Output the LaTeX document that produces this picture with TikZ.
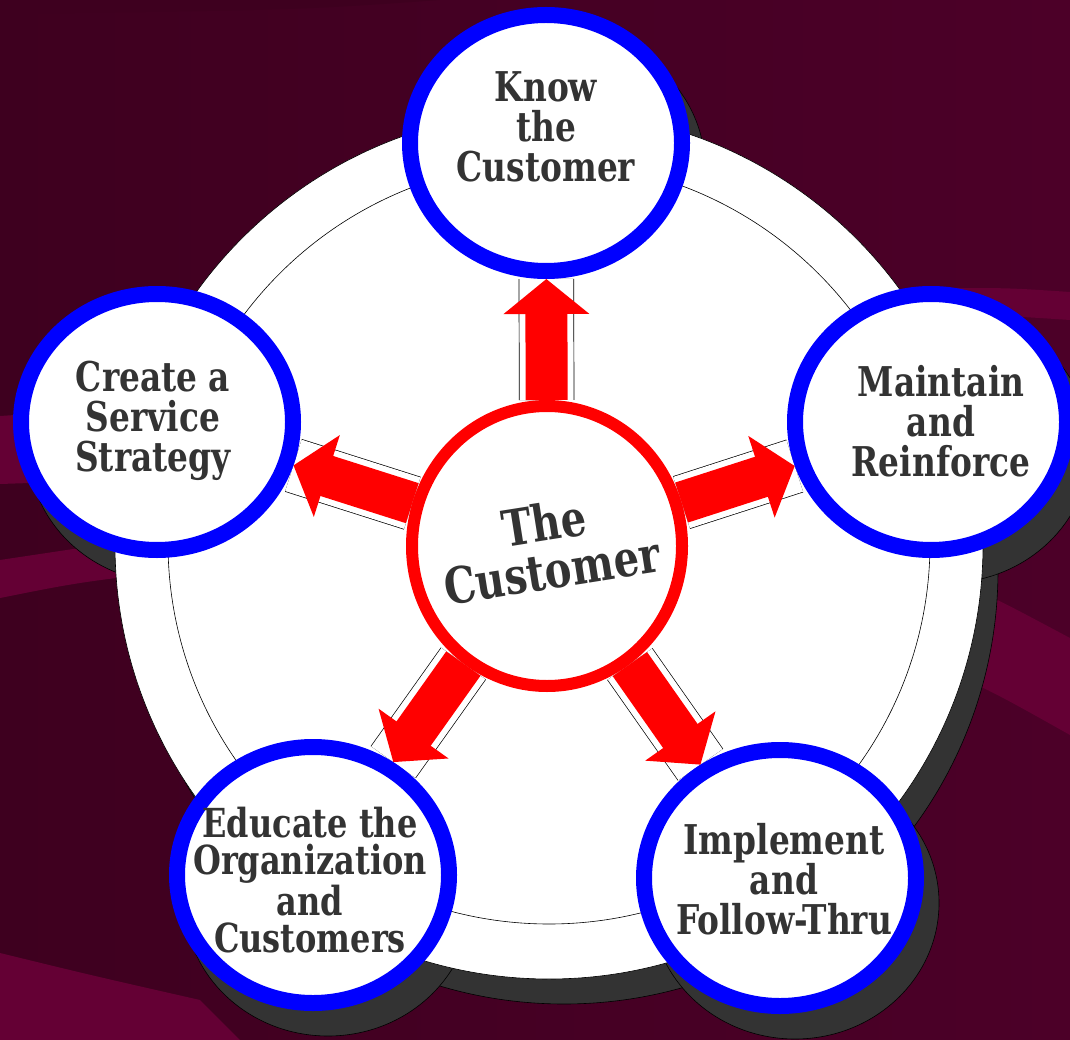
\documentclass[tikz,border=0pt]{standalone}
\usepackage{fontspec}
\newfontfamily\hubfont[FakeStretch=0.8]{DejaVu Serif}
\usetikzlibrary{arrows.meta,shapes.geometric}

\definecolor{bgdark}{HTML}{3E001F}
\definecolor{bgmid}{HTML}{5A002E}
\definecolor{bgright}{HTML}{4C0028}
\definecolor{bgband}{HTML}{640034}
\definecolor{ringblue}{HTML}{0000FF}
\definecolor{ringred}{HTML}{FF0000}
\definecolor{shadowgray}{HTML}{333333}
\definecolor{inkgray}{HTML}{333333}

\pgfdeclarelayer{back}
\pgfsetlayers{back,main}

\tikzset{
  hub/.style={ellipse, draw=ringblue, fill=white, line width=16pt,
    minimum width=272pt, minimum height=256pt, inner sep=0pt},
  core/.style={ellipse, draw=ringred, fill=white, line width=12pt,
    minimum width=270pt, minimum height=280pt, inner sep=0pt},
  hubtext/.style={align=center, text=inkgray, inner sep=0pt,
    font=\hubfont\bfseries\fontsize{41}{40}\selectfont},
  spoke/.style={draw=black, line width=0.7pt, double=white, double distance=54pt},
  push/.style={draw=ringred, line width=42pt, -{Triangle[width=84pt,length=35pt]}},
  dropfill/.style={fill=shadowgray, draw=black, line width=0.6pt},
}

\begin{document}
\begin{tikzpicture}[x=1pt, y=-1pt, line join=round]
  \useasboundingbox (0,0) rectangle (1070,1040);

  % the five outer rings and the centre
  \node[core] (cust) at (547,546) {};
  \node[hub] (know) at (546,143) {};
  \node[hub] (keep) at (931,422) {};
  \node[hub] (plan) at (157,422) {};
  \node[hub] (teach) at (313,875) {};
  \node[hub] (act) at (780,878) {};

  % ring texts
  \node[hubtext] (knowt) at (546,127) {Know\\the\\Customer};
  \node[hubtext] (plant) at (153,421) {Create a\\Service\\Strategy};
  \node[hubtext] (keept) at (941,421) {Maintain\\and\\Reinforce};
  \node[hubtext, font=\hubfont\bfseries\fontsize{40}{37}\selectfont]
    (teacht) at (310,880) {Educate the\\Organization\\and\\Customers};
  \node[hubtext] (actt) at (784,879) {Implement\\and\\Follow-Thru};
  \node[hubtext, font=\hubfont\bfseries\fontsize{50}{48}\selectfont, rotate=9]
    (custt) at (548,546) {The\\Customer};

  \begin{pgfonlayer}{back}
    % backdrop
    \fill[left color=bgdark, middle color=bgmid, right color=bgright]
      (0,0) rectangle (1070,1040);
    \fill[bgdark] (0,0) -- (440,0) .. controls (300,10) .. (0,14) -- cycle;
    \fill[bgband] (950,288) .. controls (1010,288) .. (1070,292)
      -- (1070,320) .. controls (1010,316) .. (950,316) -- cycle;
    \fill[bgband] (900,560) .. controls (980,590) .. (1070,638)
      -- (1070,735) .. controls (990,690) .. (900,650) -- cycle;
    \fill[bgband] (0,560) .. controls (80,548) .. (200,530)
      -- (200,568) .. controls (80,582) .. (0,598) -- cycle;
    \fill[bgband] (0,416) -- (60,412) -- (60,482) -- (0,484) -- cycle;
    \fill[bgband] (0,953) .. controls (90,975) .. (200,1000)
      -- (240,1040) -- (0,1040) -- cycle;

    % big disc with its shadow
    \draw[dropfill] (564,570) circle (434);
    \foreach \n in {know,keep,plan,teach,act}
      \draw[dropfill] ([shift={(15,25)}]\n.center) ellipse (144 and 136);
    \draw[fill=white, line width=0.6pt] (549,545) circle (434);
    \draw[line width=0.6pt] (549,543) circle (381);

    % spokes and arrows
    \foreach \n in {know,keep,plan,teach,act}{
      \draw[spoke] (cust) -- (\n);
      \draw[push] (cust) -- (\n);
    }
  \end{pgfonlayer}
\end{tikzpicture}
\end{document}
